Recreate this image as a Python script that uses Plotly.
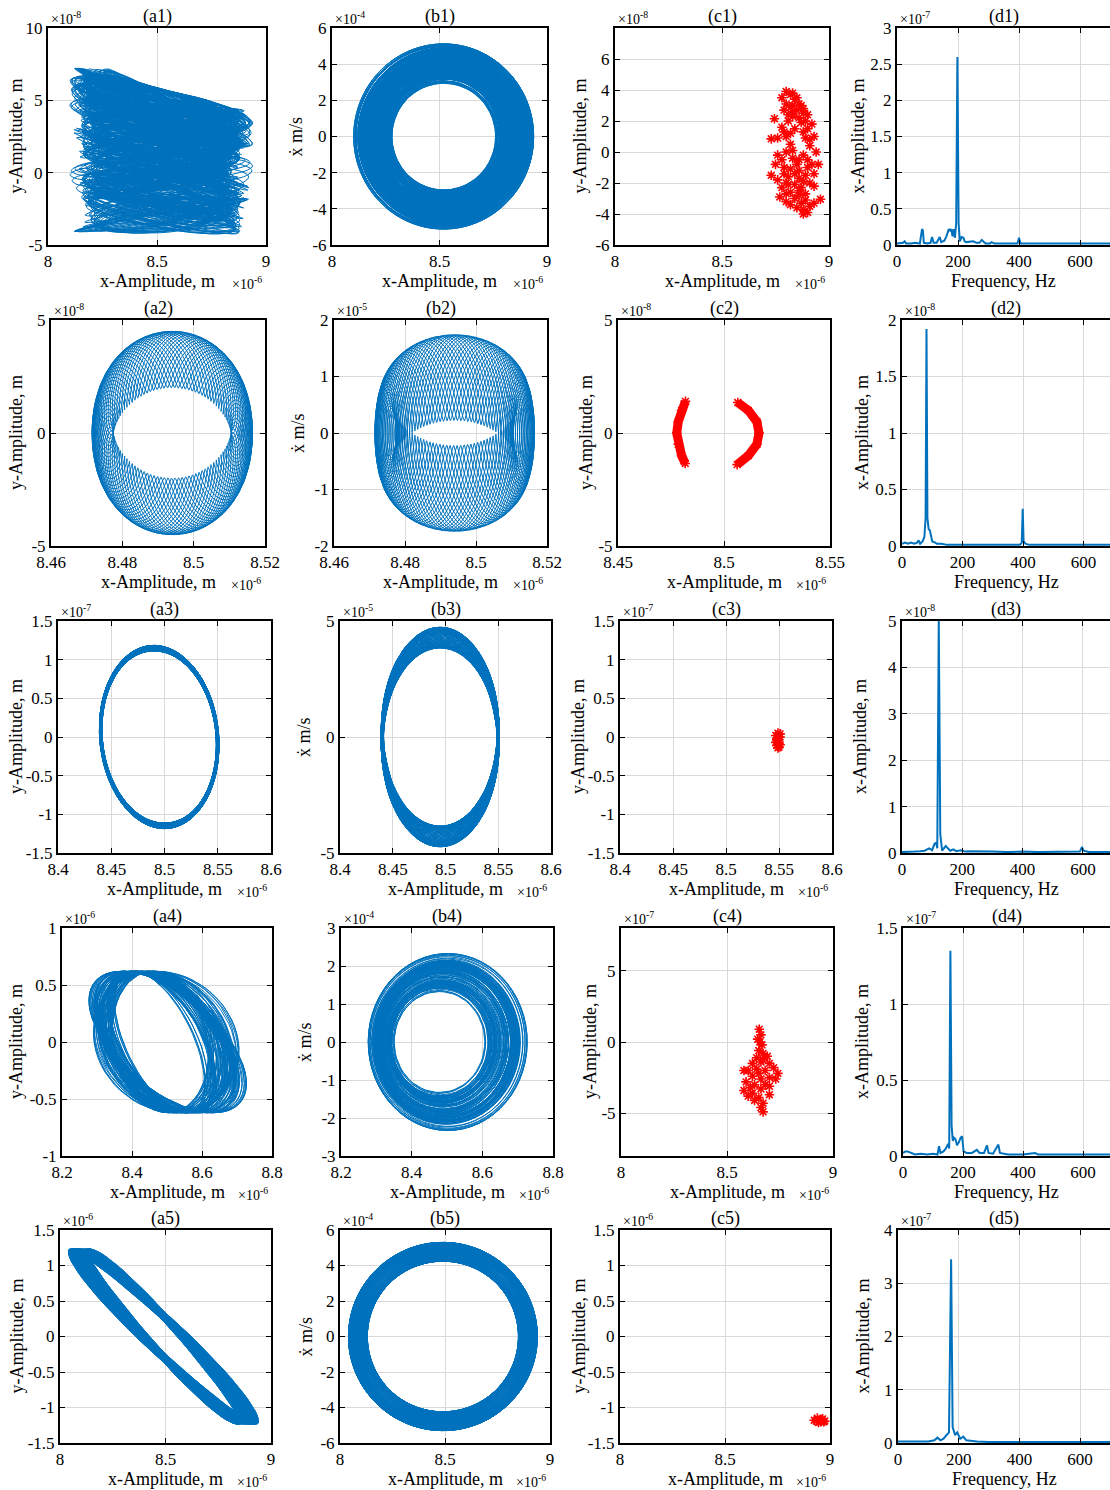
import numpy as np
import plotly.graph_objects as go

W, H = 1110, 1490
FONT = "Liberation Serif"
BLUE = "#0072BD"
RED = "#FF0000"
GRID = "#d9d9d9"

# ---------------- plot boxes in pixels ----------------
ROW_TOP = [28, 320, 621, 928, 1230]
ROW_BOTTOM = [245, 546, 853, 1156, 1443]
COL_LEFT = [[48, 332, 615, 897], [51, 334, 618, 902], [58, 340, 620, 902],
            [62, 341, 621, 903], [60, 340, 620, 898]]
COL_RIGHT = [[266, 547, 829, W], [265, 547, 830, W], [271, 551, 832, W],
             [272, 553, 833, W], [271, 550, 830, W]]
YTITLE_OFFSET = [[32, 36, 35, 39], [35, 36, 32, 40], [42, 36, 42, 42],
                 [46, 36, 31, 41], [44, 35, 42, 36]]
SPEC_PX_PER_200HZ = [61.0, 60.5, 60.3, 60.0, 60.7]

# ---------------- axis ranges / ticks ----------------
A_XRANGE = [[8, 9], [8.46, 8.52], [8.4, 8.6], [8.2, 8.8], [8, 9]]
A_XTICKS = [[8, 8.5, 9], [8.46, 8.48, 8.5, 8.52], [8.4, 8.45, 8.5, 8.55, 8.6],
            [8.2, 8.4, 8.6, 8.8], [8, 8.5, 9]]
C_XRANGE = [[8, 9], [8.45, 8.55], [8.4, 8.6], [8, 9], [8, 9]]
C_XTICKS = [[8, 8.5, 9], [8.45, 8.5, 8.55], [8.4, 8.45, 8.5, 8.55, 8.6], [8, 8.5, 9], [8, 8.5, 9]]

A_YRANGE = [[-5, 10], [-5, 5], [-1.5, 1.5], [-1, 1], [-1.5, 1.5]]
A_YTICKS = [[-5, 0, 5, 10], [-5, 0, 5], [-1.5, -1, -0.5, 0, 0.5, 1, 1.5],
            [-1, -0.5, 0, 0.5, 1], [-1.5, -1, -0.5, 0, 0.5, 1, 1.5]]
A_YEXP = [-8, -8, -7, -6, -6]

B_YRANGE = [[-6, 6], [-2, 2], [-5, 5], [-3, 3], [-6, 6]]
B_YTICKS = [[-6, -4, -2, 0, 2, 4, 6], [-2, -1, 0, 1, 2], [-5, 0, 5],
            [-3, -2, -1, 0, 1, 2, 3], [-6, -4, -2, 0, 2, 4, 6]]
B_YEXP = [-4, -5, -5, -4, -4]

C_YRANGE = [[-6, 8], [-5, 5], [-1.5, 1.5], [-8, 8], [-1.5, 1.5]]
C_YTICKS = [[-6, -4, -2, 0, 2, 4, 6], [-5, 0, 5], [-1.5, -1, -0.5, 0, 0.5, 1, 1.5],
            [-5, 0, 5], [-1.5, -1, -0.5, 0, 0.5, 1, 1.5]]
C_YEXP = [-8, -8, -7, -7, -6]

D_YRANGE = [[0, 3], [0, 2], [0, 5], [0, 1.5], [0, 4]]
D_YTICKS = [[0, 0.5, 1, 1.5, 2, 2.5, 3], [0, 0.5, 1, 1.5, 2], [0, 1, 2, 3, 4, 5],
            [0, 0.5, 1, 1.5], [0, 1, 2, 3, 4]]
D_YEXP = [-7, -8, -8, -7, -7]
D_XTICKS = [0, 200, 400, 600]

# ---------------- amplitude spectra (Hz, amplitude) ----------------
D1_SPECTRUM = [(0, 0.02), (10, 0.02), (20, 0.03), (25, 0.05), (30, 0.02), (45, 0.02), (60, 0.03),
               (75, 0.02), (82, 0.22), (85, 0.2), (88, 0.03), (100, 0.02), (110, 0.03), (115, 0.11),
               (120, 0.03), (130, 0.03), (137, 0.1), (140, 0.11), (145, 0.04), (155, 0.06),
               (162, 0.12), (166, 0.18), (170, 0.22), (174, 0.2), (178, 0.22), (182, 0.12),
               (186, 0.22), (190, 0.1), (194, 0.3), (198, 2.6), (202, 0.3), (206, 0.05),
               (212, 0.11), (218, 0.1), (222, 0.05), (228, 0.04), (240, 0.05), (250, 0.05),
               (260, 0.03), (270, 0.03), (278, 0.07), (282, 0.05), (290, 0.02), (305, 0.02),
               (310, 0.04), (320, 0.02), (360, 0.02), (380, 0.02), (395, 0.02), (400, 0.1),
               (405, 0.02), (460, 0.02), (550, 0.02), (596, 0.02), (600, 0.03), (604, 0.02),
               (700, 0.02)]
D2_SPECTRUM = [(0, 0.02), (10, 0.03), (20, 0.02), (30, 0.03), (40, 0.02), (50, 0.03), (55, 0.05),
               (60, 0.02), (68, 0.04), (74, 0.08), (78, 0.25), (81, 1.92), (84, 0.25), (88, 0.15),
               (92, 0.14), (96, 0.1), (100, 0.04), (110, 0.03), (115, 0.02), (130, 0.02),
               (150, 0.01), (200, 0.01), (300, 0.01), (390, 0.01), (396, 0.03), (399, 0.33),
               (402, 0.04), (408, 0.02), (420, 0.01), (500, 0.01), (600, 0.01), (700, 0.01)]
D3_SPECTRUM = [(0, 0.02), (20, 0.02), (40, 0.03), (60, 0.04), (75, 0.05), (90, 0.1), (100, 0.06),
               (108, 0.2), (113, 0.22), (117, 0.1), (122, 5.0), (127, 0.4), (133, 0.05),
               (145, 0.15), (150, 0.12), (160, 0.05), (170, 0.08), (180, 0.04), (195, 0.06),
               (210, 0.03), (230, 0.04), (260, 0.03), (300, 0.03), (350, 0.02), (400, 0.03),
               (450, 0.02), (500, 0.02), (550, 0.02), (590, 0.03), (597, 0.13), (602, 0.05),
               (620, 0.02), (700, 0.02)]
D4_SPECTRUM = [(0, 0.02), (8, 0.03), (15, 0.03), (25, 0.02), (40, 0.01), (60, 0.015), (80, 0.01),
               (100, 0.015), (115, 0.01), (120, 0.065), (125, 0.02), (135, 0.03), (143, 0.05),
               (150, 0.08), (154, 0.05), (158, 1.35), (162, 0.2), (166, 0.1), (170, 0.12),
               (175, 0.11), (180, 0.07), (186, 0.09), (192, 0.12), (197, 0.13), (202, 0.03),
               (212, 0.02), (230, 0.02), (246, 0.04), (255, 0.02), (270, 0.02), (280, 0.07),
               (285, 0.02), (300, 0.015), (318, 0.075), (323, 0.02), (350, 0.01), (400, 0.01),
               (440, 0.02), (450, 0.01), (500, 0.01), (600, 0.01), (700, 0.01)]
D5_SPECTRUM = [(0, 0.03), (20, 0.03), (50, 0.02), (80, 0.02), (100, 0.03), (120, 0.05), (130, 0.1),
               (140, 0.05), (150, 0.08), (160, 0.15), (168, 0.2), (175, 3.45), (180, 0.3),
               (188, 0.15), (195, 0.2), (205, 0.08), (215, 0.12), (225, 0.05), (240, 0.04),
               (260, 0.03), (300, 0.02), (350, 0.02), (400, 0.02), (500, 0.02), (600, 0.02),
               (700, 0.02)]
SPECTRA = [D1_SPECTRUM, D2_SPECTRUM, D3_SPECTRUM, D4_SPECTRUM, D5_SPECTRUM]

# ---------------- Poincaré section points ----------------
C1_POINTS = [(8.80, 3.9), (8.82, 3.7), (8.78, 3.5), (8.84, 3.4), (8.86, 3.1), (8.80, 3.1),
             (8.88, 2.8), (8.83, 2.6), (8.79, 2.7), (8.90, 2.4), (8.86, 2.2), (8.81, 2.0),
             (8.745, 2.15), (8.92, 1.8), (8.78, 1.6), (8.84, 1.5), (8.88, 1.3), (8.80, 1.0),
             (8.93, 1.0), (8.76, 0.9), (8.73, 0.85), (8.82, 0.5), (8.91, 0.4), (8.94, 0.0),
             (8.80, 0.0), (8.76, -0.2), (8.83, -0.4), (8.90, -0.5), (8.95, -0.8), (8.75, -0.8),
             (8.79, -1.0), (8.86, -1.2), (8.93, -1.4), (8.73, -1.5), (8.81, -1.6), (8.76, -1.8),
             (8.88, -1.9), (8.84, -2.1), (8.93, -2.2), (8.78, -2.3), (8.82, -2.6), (8.89, -2.7),
             (8.77, -2.9), (8.84, -3.0), (8.96, -3.05), (8.80, -3.2), (8.87, -3.3), (8.91, -3.5),
             (8.85, -3.6), (8.90, -3.9), (8.88, -4.0), (8.83, 3.0), (8.87, 1.9), (8.89, 0.9),
             (8.82, -1.1), (8.86, -2.5), (8.81, 2.4), (8.90, -1.0), (8.85, -0.8), (8.80, -2.0),
             (8.83, 3.8), (8.85, 3.5), (8.87, 3.0), (8.82, 2.9), (8.85, 2.7), (8.88, 2.5),
             (8.83, 2.3), (8.89, 2.0), (8.79, 1.3), (8.82, 1.2), (8.90, 1.5), (8.91, 0.8),
             (8.83, 0.1), (8.86, -0.5), (8.88, -0.2), (8.92, -0.8), (8.78, -0.5), (8.84, -1.4),
             (8.89, -1.5), (8.79, -1.4), (8.86, -1.7), (8.91, -2.0), (8.81, -2.1), (8.87, -2.3),
             (8.80, -2.7), (8.86, -2.8), (8.82, -3.4), (8.88, -3.7), (8.89, -3.1), (8.93, -3.3)]
C2_LEFT_ARC = [(8.4818, 1.4), (8.4800, 1.0), (8.4784, 0.5), (8.4777, 0.0), (8.4784, -0.5),
               (8.4800, -1.0), (8.4817, -1.35)]
C2_RIGHT_ARC = [(8.5065, 1.35), (8.5115, 1.0), (8.5155, 0.5), (8.5165, 0.0), (8.5155, -0.5),
                (8.5115, -1.0), (8.5062, -1.4)]
C3_POINTS = [(8.549, 0.05), (8.547, 0.02), (8.551, 0.0), (8.548, -0.04), (8.550, -0.08),
             (8.548, -0.11), (8.550, -0.13), (8.549, -0.02), (8.551, 0.04), (8.547, -0.07),
             (8.551, -0.10), (8.549, -0.14)]
C4_POINTS = [(8.652, 0.9), (8.66, 0.5), (8.645, 0.2), (8.665, -0.2), (8.65, -0.6), (8.67, -0.8),
             (8.64, -1.1), (8.69, -1.0), (8.62, -1.5), (8.66, -1.4), (8.70, -1.5), (8.72, -1.8),
             (8.60, -2.0), (8.64, -1.9), (8.68, -2.0), (8.74, -2.2), (8.58, -2.0), (8.62, -2.4),
             (8.66, -2.6), (8.70, -2.5), (8.73, -2.6), (8.59, -2.8), (8.68, -3.0), (8.63, -3.0),
             (8.58, -3.4), (8.62, -3.6), (8.66, -3.3), (8.70, -3.1), (8.60, -3.8), (8.65, -3.9),
             (8.67, -4.3), (8.66, -4.6), (8.67, -4.9), (8.63, -4.1), (8.70, -3.7), (8.655, 0.0),
             (8.67, -1.2), (8.61, -3.2), (8.65, -2.2)]
C5_POINTS = [(8.925, -1.18), (8.94, -1.15), (8.955, -1.2), (8.965, -1.16), (8.975, -1.19),
             (8.945, -1.21), (8.96, -1.17), (8.935, -1.19), (8.97, -1.2)]

# ---------------- orbit parameters (x in 1e-6 m) ----------------
# row 1: amplitude-modulated carrier; y = slow wandering level + small fast loop
R1_CARRIER_HZ = 195.0
R1_X_CENTER = 8.52
R1_X_AMP = [0.33, 0.045, 0.03, 0.015]
R1_X_MOD_HZ = [6.1, 13.7, 21.3]
R1_Y_COEF = [0.8, 0.75, 3.8, 0.7]      # offset, tilt with x, slow swing, swing change with x
R1_Y_SLOW_HZ = [2.7, 1.3, 6.1]
R1_Y_SLOW_DEPTH = [2.0, 0.8]
R1_Y_LOOP = 1.2
R1_LOOP_DRIFT_HZ = 2.3
R1_CYCLES = 400
# row 2: two-tone torus
R2_FREQ_HZ = [80.0, 403.2]
R2_X_CENTER = 8.494
R2_X_AMP = [0.0195, 0.003]
R2_Y_AMP = [3.25, 1.25]
R2_CYCLES = 25
# row 3: main tone plus weak high tone
R3_FREQ_HZ = [124.0, 600.7]
R3_X_CENTER = 8.495
R3_X_AMP = [0.055, 0.0012]
R3_Y_AMP = [1.15, 0.035]
R3_Y_SKEW = -0.09
R3_CYCLES = 70
# row 4: carrier with wandering amplitude, centre and x-y phase
R4_CARRIER_HZ = 165.0
R4_X_CENTER = [8.49, 0.012]
R4_X_AMP = [0.175, 0.05]
R4_Y_AMP = 0.62
R4_PHASE = [1.95, 0.25]
R4_MOD_HZ = [3.3, 7.9, 11.3]
R4_PHASE_HZ = [2.1, 5.3]
R4_CYCLES = 110
# row 5: narrow tilted loop
R5_CARRIER_HZ = 188.0
R5_X_CENTER = 8.49
R5_X_AMP = [0.405, 0.045]
R5_Y_AMP = 1.23
R5_DELTA = [0.24, 0.06]
R5_MOD_HZ = [3.7, 8.9]
R5_CYCLES = 110

PTS_PER_CYCLE = 60


def orbit_row1():
    t = np.linspace(0, R1_CYCLES / R1_CARRIER_HZ, R1_CYCLES * PTS_PER_CYCLE)
    th = 2 * np.pi * R1_CARRIER_HZ * t
    a = R1_X_AMP[0] + sum(A * np.sin(2 * np.pi * f * t + k)
                          for k, (A, f) in enumerate(zip(R1_X_AMP[1:], R1_X_MOD_HZ)))
    x = R1_X_CENTER + a * np.cos(th)
    slow = np.sin(2 * np.pi * R1_Y_SLOW_HZ[0] * t
                  + R1_Y_SLOW_DEPTH[0] * np.sin(2 * np.pi * R1_Y_SLOW_HZ[1] * t)
                  + R1_Y_SLOW_DEPTH[1] * np.sin(2 * np.pi * R1_Y_SLOW_HZ[2] * t))
    c, k, b0, b1 = R1_Y_COEF
    loop = R1_Y_LOOP * np.cos(th + 2 * np.pi * R1_LOOP_DRIFT_HZ * t)
    y = c - k * np.cos(th) + (b0 - b1 * np.cos(th)) * slow + loop
    return t, x, y


def orbit_row2():
    t = np.linspace(0, R2_CYCLES / R2_FREQ_HZ[0], R2_CYCLES * 300)
    w1, w2 = 2 * np.pi * R2_FREQ_HZ[0], 2 * np.pi * R2_FREQ_HZ[1]
    x = R2_X_CENTER + R2_X_AMP[0] * np.cos(w1 * t) + R2_X_AMP[1] * np.cos(w2 * t)
    y = R2_Y_AMP[0] * np.sin(w1 * t) + R2_Y_AMP[1] * np.sin(w2 * t)
    return t, x, y


def orbit_row3():
    t = np.linspace(0, R3_CYCLES / R3_FREQ_HZ[0], R3_CYCLES * 120)
    w1, w2 = 2 * np.pi * R3_FREQ_HZ[0], 2 * np.pi * R3_FREQ_HZ[1]
    x = R3_X_CENTER + R3_X_AMP[0] * np.cos(w1 * t) + R3_X_AMP[1] * np.cos(w2 * t)
    y = R3_Y_AMP[0] * np.sin(w1 * t + R3_Y_SKEW) + R3_Y_AMP[1] * np.sin(w2 * t)
    return t, x, y


def orbit_row4():
    t = np.linspace(0, R4_CYCLES / R4_CARRIER_HZ, R4_CYCLES * PTS_PER_CYCLE)
    th = 2 * np.pi * R4_CARRIER_HZ * t
    s = 0.8 * np.sin(2 * np.pi * R4_MOD_HZ[0] * t + 0.9 * np.sin(2 * np.pi * R4_MOD_HZ[1] * t)) \
        + 0.35 * np.sin(2 * np.pi * R4_MOD_HZ[2] * t + 2.0)
    s = np.clip(s, -1, 1)
    p = np.sin(2 * np.pi * R4_PHASE_HZ[0] * t + 1.2 * np.sin(2 * np.pi * R4_PHASE_HZ[1] * t))
    a = R4_X_AMP[0] + R4_X_AMP[1] * s
    phi = R4_PHASE[0] + R4_PHASE[1] * p
    x = R4_X_CENTER[0] + R4_X_CENTER[1] * s + a * np.cos(th)
    y = R4_Y_AMP * np.cos(th + phi)
    return t, x, y


def orbit_row5():
    t = np.linspace(0, R5_CYCLES / R5_CARRIER_HZ, R5_CYCLES * PTS_PER_CYCLE)
    th = 2 * np.pi * R5_CARRIER_HZ * t
    s1 = np.sin(2 * np.pi * R5_MOD_HZ[0] * t)
    s2 = np.sin(2 * np.pi * R5_MOD_HZ[1] * t + 0.7)
    a = R5_X_AMP[0] + R5_X_AMP[1] * s1
    d = R5_DELTA[0] + R5_DELTA[1] * s2
    x = R5_X_CENTER + a * np.cos(th)
    y = R5_Y_AMP * np.cos(th + np.pi - d)
    return t, x, y


ORBITS = [orbit_row1, orbit_row2, orbit_row3, orbit_row4, orbit_row5]
C_SETS = [C1_POINTS, None, C3_POINTS, C4_POINTS, C5_POINTS]


def fmt(v):
    return f"{v:g}"


fig = go.Figure()
layout = dict(width=W, height=H, margin=dict(l=0, r=0, t=0, b=0, autoexpand=False),
              paper_bgcolor="white", plot_bgcolor="white", showlegend=False,
              font=dict(family=FONT, size=17, color="black"))
annotations = []


def ann(text, xpx, ypx, size=18, xanchor="center", yanchor="middle", angle=0):
    annotations.append(dict(text=text, x=xpx / W, y=1 - ypx / H, xref="paper", yref="paper",
                            xanchor=xanchor, yanchor=yanchor, showarrow=False, textangle=angle,
                            font=dict(family=FONT, size=size, color="black")))


def add_axes(n, box, xr, xt, yr, yt, yexp, xexp, label, ytitle, xtitle, ytoff, open_right=False):
    left, right, top, bottom = box
    xname = "xaxis" if n == 1 else f"xaxis{n}"
    yname = "yaxis" if n == 1 else f"yaxis{n}"
    common = dict(showline=True, linewidth=2, linecolor="black", ticks="inside", ticklen=5,
                  tickwidth=1.2, tickcolor="black", showgrid=True, gridcolor=GRID, gridwidth=1.2,
                  zeroline=False, fixedrange=True, automargin=False,
                  tickfont=dict(family=FONT, size=17, color="black"))
    layout[xname] = dict(domain=[left / W, right / W], range=xr, tickvals=xt,
                         ticktext=[fmt(v) for v in xt], anchor="y" if n == 1 else f"y{n}",
                         mirror="ticks", **common)
    layout[yname] = dict(domain=[1 - bottom / H, 1 - top / H], range=yr, tickvals=yt,
                         ticktext=[fmt(v) for v in yt], anchor="x" if n == 1 else f"x{n}",
                         mirror=False if open_right else "ticks", **common)
    cx = (left + right) / 2
    ann(label, cx, top - 12, size=18)
    ann(f"×10<sup>{yexp}</sup>", left + 1, top - 10, size=14, xanchor="left")
    if xexp is not None:
        ann(f"×10<sup>{xexp}</sup>", right - 2, bottom + 38, size=14, xanchor="right")
    ann(xtitle, cx, bottom + 36, size=18)
    ann(ytitle, left - ytoff, (top + bottom) / 2, size=18, angle=-90)


n = 0
for r in range(5):
    top, bottom = ROW_TOP[r], ROW_BOTTOM[r]
    lefts, rights = COL_LEFT[r], COL_RIGHT[r]
    t, x, y = ORBITS[r]()
    xdot = np.gradient(x, t) * (1e-6 / 10.0 ** B_YEXP[r])

    # (a) x-y orbit
    n += 1
    add_axes(n, (lefts[0], rights[0], top, bottom), A_XRANGE[r], A_XTICKS[r], A_YRANGE[r],
             A_YTICKS[r], A_YEXP[r], -6, f"(a{r+1})", "y-Amplitude, m", "x-Amplitude, m",
             YTITLE_OFFSET[r][0])
    fig.add_trace(go.Scatter(x=x, y=y, mode="lines", line=dict(color=BLUE, width=1),
                             xaxis="x" if n == 1 else f"x{n}", yaxis="y" if n == 1 else f"y{n}",
                             hoverinfo="skip"))
    # (b) phase portrait
    n += 1
    add_axes(n, (lefts[1], rights[1], top, bottom), A_XRANGE[r], A_XTICKS[r], B_YRANGE[r],
             B_YTICKS[r], B_YEXP[r], -6, f"(b{r+1})", "ẋ m/s", "x-Amplitude, m",
             YTITLE_OFFSET[r][1])
    fig.add_trace(go.Scatter(x=x, y=xdot, mode="lines", line=dict(color=BLUE, width=1),
                             xaxis=f"x{n}", yaxis=f"y{n}", hoverinfo="skip"))
    # (c) Poincaré map
    n += 1
    add_axes(n, (lefts[2], rights[2], top, bottom), C_XRANGE[r], C_XTICKS[r], C_YRANGE[r],
             C_YTICKS[r], C_YEXP[r], -6, f"(c{r+1})", "y-Amplitude, m", "x-Amplitude, m",
             YTITLE_OFFSET[r][2])
    star = dict(symbol="asterisk-open", size=8, color=RED, line=dict(color=RED, width=1.6))
    if r == 1:
        for arc in (C2_LEFT_ARC, C2_RIGHT_ARC):
            fig.add_trace(go.Scatter(x=[p[0] for p in arc], y=[p[1] for p in arc],
                                     mode="lines+markers", line=dict(color=RED, width=9),
                                     marker=star, xaxis=f"x{n}", yaxis=f"y{n}",
                                     hoverinfo="skip"))
    else:
        pts = C_SETS[r]
        fig.add_trace(go.Scatter(x=[p[0] for p in pts], y=[p[1] for p in pts], mode="markers",
                                 marker=star, xaxis=f"x{n}", yaxis=f"y{n}", hoverinfo="skip"))
    # (d) amplitude spectrum
    n += 1
    xmax = (rights[3] - lefts[3]) / SPEC_PX_PER_200HZ[r] * 200
    add_axes(n, (lefts[3], rights[3], top, bottom), [0, xmax], D_XTICKS, D_YRANGE[r],
             D_YTICKS[r], D_YEXP[r], None, f"(d{r+1})", "x-Amplitude, m", "Frequency, Hz",
             YTITLE_OFFSET[r][3], open_right=True)
    spec = SPECTRA[r]
    fig.add_trace(go.Scatter(x=[p[0] for p in spec], y=[p[1] for p in spec], mode="lines",
                             line=dict(color=BLUE, width=2), xaxis=f"x{n}", yaxis=f"y{n}",
                             hoverinfo="skip"))

layout["annotations"] = annotations
fig.update_layout(**layout)
fig.write_html("out.html")
